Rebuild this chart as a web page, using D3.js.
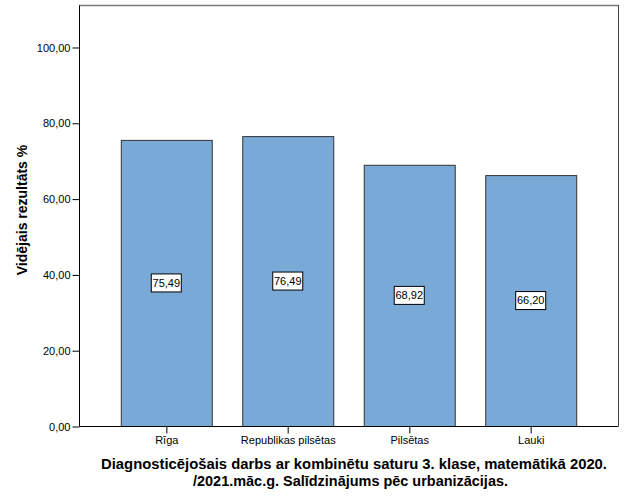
<!DOCTYPE html>
<html><head><meta charset="utf-8">
<script src="https://cdn.jsdelivr.net/npm/d3@7"></script>
<style>body{margin:0;background:#fff}svg{display:block;font-family:"Liberation Sans",Arial,sans-serif}</style>
</head><body>
<svg id="c" width="625" height="500"></svg>
<script>
const categories = ["Rīga", "Republikas pilsētas", "Pilsētas", "Lauki"];
const values = [75.49, 76.49, 68.92, 66.20];
const yTicks = [0, 20, 40, 60, 80, 100];
const yTitle = "Vidējais rezultāts %";
const titleLines = ["Diagnosticējošais darbs ar kombinētu saturu 3. klase, matemātikā 2020.", "/2021.māc.g. Salīdzinājums pēc urbanizācijas."];

const svg = d3.select("#c");
const L = 79, R = 618, T = 5, B = 426;
const x = d3.scaleBand().domain(categories).range([L, R]).paddingInner(0.251).paddingOuter(0.344);
const y = d3.scaleLinear().domain([0, 111.08]).range([B, T]);
const fmt = v => v.toFixed(2).replace(".", ",");

// frame
svg.append("line").attr("x1", L).attr("x2", R + 0.5).attr("y1", T + 0.5).attr("y2", T + 0.5).attr("stroke", "#777").attr("stroke-width", 1.5);
svg.append("line").attr("x1", R + 0.5).attr("x2", R + 0.5).attr("y1", T).attr("y2", B).attr("stroke", "#444").attr("stroke-width", 1);

// bars
svg.append("g").selectAll("rect").data(values).join("rect")
  .attr("x", (d, i) => x(categories[i]) + 0.5)
  .attr("y", d => y(d) + 0.5)
  .attr("width", x.bandwidth())
  .attr("height", d => B - y(d))
  .attr("fill", "#79a9d6").attr("stroke", "#333").attr("stroke-width", 1);

// y axis
const ya = svg.append("g").attr("transform", `translate(${L + 0.5},0.5)`)
  .call(d3.axisLeft(y).tickValues(yTicks).tickFormat(fmt).tickSize(7).tickPadding(2));
ya.select(".domain").attr("d", `M0,${T}V${B}`).attr("stroke", "#000");
ya.selectAll("text").attr("font-size", 11).attr("fill", "#000").attr("font-family", "Liberation Sans, Arial, sans-serif");

// x axis
const xa = svg.append("g").attr("transform", `translate(0.5,${B + 0.5})`)
  .call(d3.axisBottom(x).tickSize(7).tickPadding(3));
xa.select(".domain").attr("d", `M${L},0H${R}`).attr("stroke", "#000");
xa.selectAll(".tick line").attr("stroke", "#555").attr("stroke-width", 1.5);
xa.selectAll("text").attr("font-size", 11).attr("fill", "#000").attr("font-family", "Liberation Sans, Arial, sans-serif");

// value labels
const lg = svg.append("g").selectAll("g").data(values).join("g")
  .attr("transform", (d, i) => `translate(${x(categories[i]) + x.bandwidth() / 2},${y(d / 2)})`);
lg.append("rect").attr("x", -15).attr("y", -9).attr("width", 30).attr("height", 18)
  .attr("fill", "#fff").attr("stroke", "#000").attr("stroke-width", 1);
lg.append("text").attr("text-anchor", "middle").attr("dy", "0.35em").attr("font-size", 11).text(fmt);

// y title
svg.append("text").attr("transform", "translate(27,210) rotate(-90)").attr("text-anchor", "middle")
  .attr("font-size", 14).attr("font-weight", "bold").text(yTitle);

// title
svg.append("text").attr("x", 101).attr("y", 469).attr("font-size", 14.6).attr("font-weight", "bold")
  .attr("textLength", 506).attr("lengthAdjust", "spacingAndGlyphs").text(titleLines[0]);
svg.append("text").attr("x", 193).attr("y", 486).attr("font-size", 14.6).attr("font-weight", "bold")
  .attr("textLength", 315).attr("lengthAdjust", "spacingAndGlyphs").text(titleLines[1]);
</script>
</body></html>
